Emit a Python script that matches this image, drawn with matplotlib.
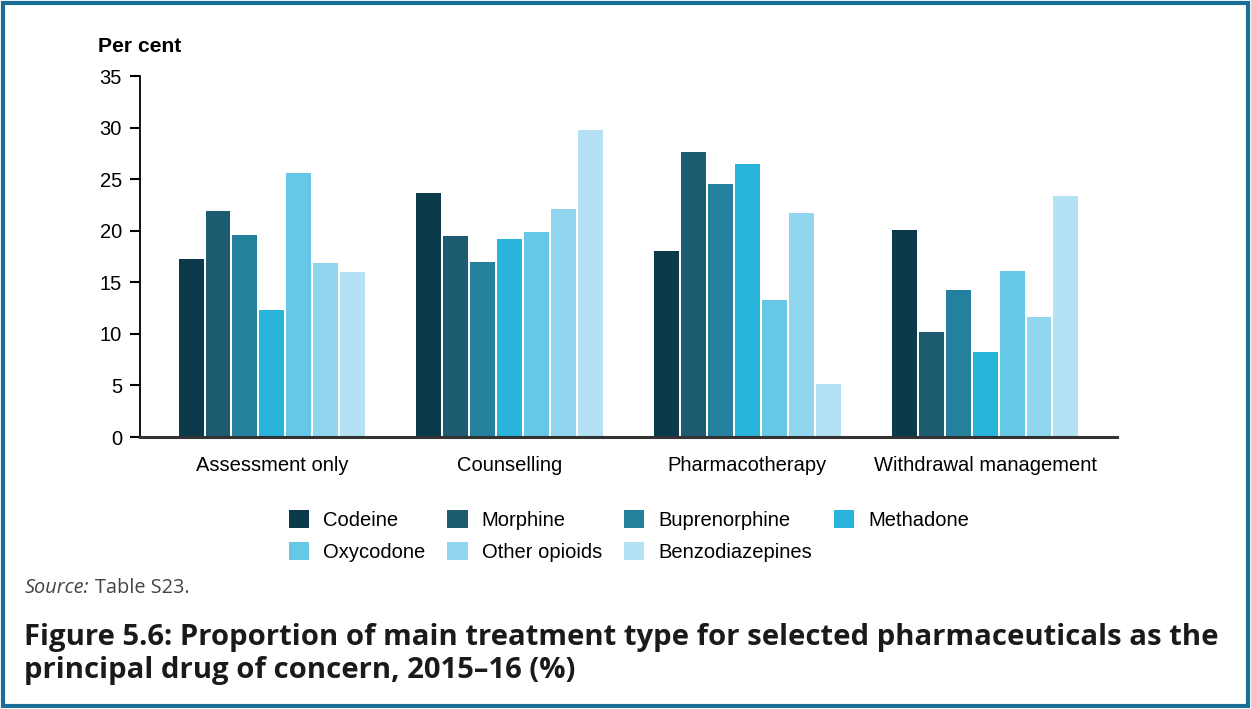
import numpy as np
import matplotlib
matplotlib.use("Agg")
import matplotlib.pyplot as plt
from matplotlib.patches import Rectangle

# data
categories = ["Assessment only", "Counselling", "Pharmacotherapy", "Withdrawal management"]
drugs = ["Codeine", "Morphine", "Buprenorphine", "Methadone", "Oxycodone", "Other opioids", "Benzodiazepines"]
codeine = [17.3, 23.7, 18.0, 20.1]
morphine = [21.9, 19.5, 27.6, 10.2]
buprenorphine = [19.6, 17.0, 24.5, 14.3]
methadone = [12.3, 19.2, 26.5, 8.2]
oxycodone = [25.6, 19.9, 13.3, 16.1]
other_opioids = [16.9, 22.1, 21.7, 11.6]
benzodiazepines = [16.0, 29.8, 5.1, 23.4]
series = [codeine, morphine, buprenorphine, methadone, oxycodone, other_opioids, benzodiazepines]
colors = ["#0b3a4b", "#1d5b70", "#24819e", "#29b4dc", "#66c7e7", "#90d6ef", "#b4e2f4"]

plt.rcParams['font.family'] = ['Liberation Sans', 'DejaVu Sans']

fig = plt.figure(figsize=(12.51, 7.09), dpi=100)
ax = fig.add_axes([0.1119, 0.3836, 0.781, 0.5092])

x = np.arange(len(categories))
step = 0.1134
width = 0.105
handles = []
for i, (vals, c) in enumerate(zip(series, colors)):
    b = ax.bar(x + (i - 3) * step, vals, width, color=c, label=drugs[i], zorder=2)
    handles.append(b)

ax.set_xlim(-0.555, 3.555)
ax.set_ylim(0, 35)
ax.set_yticks(range(0, 36, 5))
ax.set_xticks(x)
ax.set_xticklabels(categories)
ax.tick_params(axis='x', length=0, labelsize=14.5, pad=14)
ax.tick_params(axis='y', length=7, width=1.5, labelsize=14.5, pad=6)
for s in ['top', 'right']:
    ax.spines[s].set_visible(False)
ax.spines['left'].set_linewidth(1.3)
ax.spines['bottom'].set_linewidth(2.2)
ax.spines['bottom'].set_color('#333333')

fig.text(98 / 1251, 1 - 47 / 709, "Per cent", fontsize=15.2, fontweight='bold', va='center', ha='left')

# legend in row-major order
order = [0, 4, 1, 5, 2, 6, 3]
fig.legend([handles[i] for i in order], [drugs[i] for i in order], ncol=4,
           loc='center', bbox_to_anchor=(629 / 1251, 1 - 536 / 709), frameon=False,
           fontsize=14.5, handlelength=1.0, handleheight=1.0, handletextpad=0.7,
           columnspacing=1.1, labelspacing=0.62)

fig.text(25 / 1251, 1 - 588 / 709, "Source:", fontsize=14.3, style='italic', color='#444444',
         family=['Open Sans'], va='center', ha='left')
fig.text(95 / 1251, 1 - 588 / 709, "Table S23.", fontsize=14.3, color='#444444',
         family=['Open Sans'], va='center', ha='left')

fig.text(24 / 1251, 1 - 654 / 709,
         "Figure 5.6: Proportion of main treatment type for selected pharmaceuticals as the\n"
         "principal drug of concern, 2015\u201316 (%)",
         fontsize=21.1, fontweight='bold', family=['Open Sans'], color='#1a1a1a',
         va='center', ha='left', linespacing=1.18)

fig.patches.append(Rectangle((0.002, 0.004), 0.996, 0.992, transform=fig.transFigure,
                             fill=False, edgecolor='#1a6f96', linewidth=3))

fig.savefig("out.png", dpi=100)
